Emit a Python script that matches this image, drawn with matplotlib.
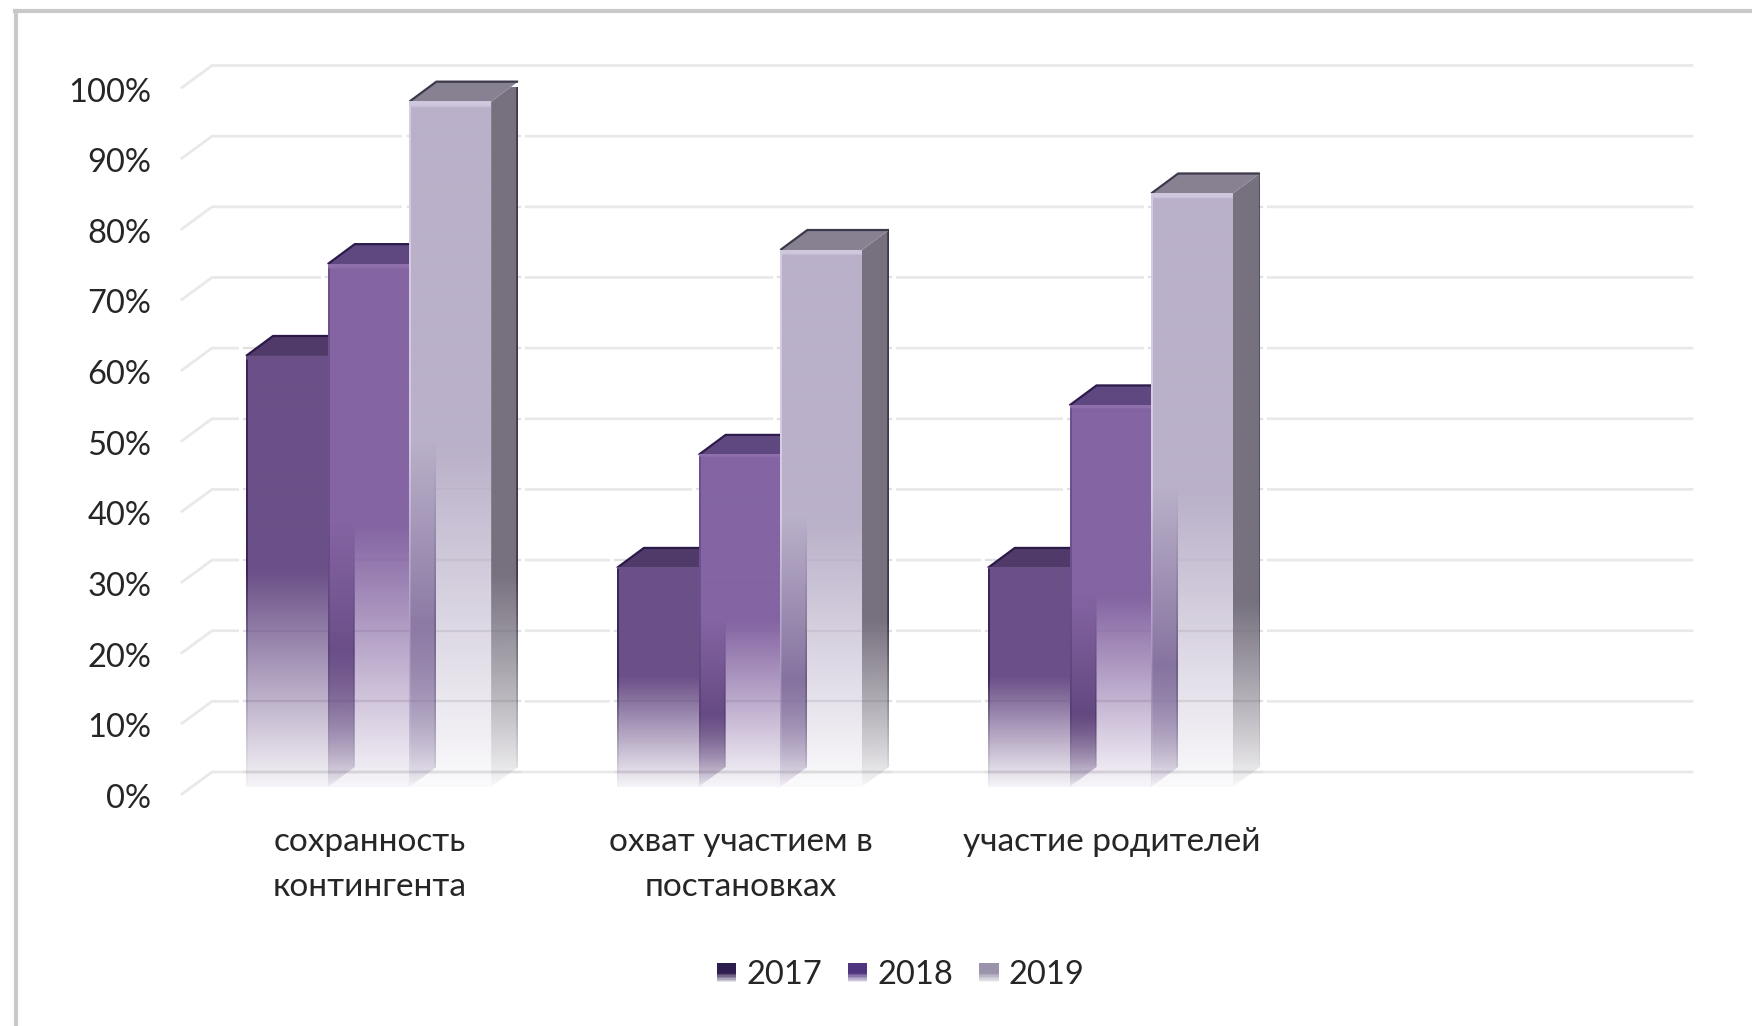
import numpy as np
import matplotlib
matplotlib.use("Agg")
import matplotlib.pyplot as plt
from matplotlib.colors import to_rgb
from matplotlib.legend_handler import HandlerBase
from matplotlib.lines import Line2D
from matplotlib.patches import Polygon, Rectangle
from matplotlib.transforms import ScaledTranslation

plt.rcParams['font.family'] = ['Lato', 'Open Sans', 'DejaVu Sans']

# Data
categories = ["сохранность\nконтингента", "охват участием в\nпостановках", "участие родителей", ""]
years = ["2017", "2018", "2019"]
values_2017 = [61, 31, 31]
values_2018 = [74, 47, 54]
values_2019 = [97, 76, 84]
y_ticks = list(range(0, 101, 10))

# Colours per series: front, side, top, top edge, left edge of front, legend
front_colors = ["#6b5088", "#8464a2", "#bab0c9"]
side_colors = ["#4d3569", "#5e4480", "#77717f"]
top_colors = ["#4f3a69", "#5f4780", "#878192"]
edge_colors = ["#2b1a48", "#2d1b4c", "#3d384a"]
left_colors = ["#3a2559", "#6d4f8f", "#d4cce4"]
top_lines = ["#6b5088", "#8f70ad", "#cfc7dd"]
legend_colors = ["#2e1d4f", "#4f3580", "#9a93ab"]

W, H = 1752, 1026
GRID = "#e9e9e9"

# Pixel geometry of the fake 3D box
cat_px = 370.9
unit_px = 7.07
wall_dx, wall_dy = 30 / cat_px, 22 / unit_px
bar_dx, bar_dy = 27 / cat_px, 20 / unit_px
bar_w = 81.7 / cat_px
bar_center = 0.003
base = 1.0
knee = 0.47

fig = plt.figure(figsize=(W / 100, H / 100), dpi=100)
ax = fig.add_axes([182 / W, 1 - 794 / H, 4 * cat_px / W, (794 - 87.5) / H])
ax.set_facecolor("none")
for s in ax.spines.values():
    s.set_visible(False)

# Screenshot frame, left and top only
fig.add_artist(Line2D([16 / W, 16 / W], [0, 1 - 10.5 / H], color="#c9c9c9", lw=3))
fig.add_artist(Line2D([14.5 / W, 1], [1 - 10.5 / H, 1 - 10.5 / H], color="#c9c9c9", lw=3))

# Walls: gridline on the back plane plus the short diagonal
for t in y_ticks:
    ax.plot([-0.5, -0.5 + wall_dx, 3.49 + wall_dx], [t, t + wall_dy, t + wall_dy],
            color=GRID, lw=2, zorder=1, clip_on=False, solid_joinstyle="round")


def front_fade(n):
    # alpha by row, row 0 is the top of the face
    h = np.linspace(1, 0, n)
    low = 0.06 + (0.95 - 0.06) * h / knee
    return np.where(h > knee + 0.03, 1.0, np.where(h > knee, 0.95 + 0.05 * (h - knee) / 0.03, low))


def side_fade(n):
    # the side stays solid much further down than the front
    h = np.linspace(1, 0, n)
    return np.clip(0.05 + 0.95 * (h / 0.3) ** 0.85, 0, 1)


def face_image(color, n_cols, alpha, left=None, right=None, right_w=1, top=None):
    rows = alpha.size
    img = np.ones((rows, n_cols, 4))
    img[:, :, :3] = to_rgb(color)
    if left is not None:
        img[:, :2, :3] = to_rgb(left)
    if right is not None:
        img[:, -right_w:, :3] = to_rgb(right)
    if top is not None:
        img[:2, :, :3] = to_rgb(top)
    img[:, :, 3] = alpha[:, None]
    return img


def draw_bar(x0, v, k, z):
    x1 = x0 + bar_w
    top = base + v
    # White halo that interrupts the gridlines, then the lines seen through the bar
    halo = 7 / cat_px
    ax.add_patch(Rectangle((x0 - halo, base + bar_dy), bar_w + bar_dx + 2 * halo, v,
                           fc="white", ec="none", zorder=1.5, clip_on=False))
    for t in y_ticks:
        if t + wall_dy < top + bar_dy:
            ax.plot([x0 - 0.005, x1 + bar_dx + 0.005], [t + wall_dy, t + wall_dy],
                    color="#e0e0e0", lw=1.6, zorder=1.7, clip_on=False)

    # Side face, clipped to its parallelogram
    side = face_image(side_colors[k], 30, side_fade(240), right=edge_colors[k], right_w=2)
    im = ax.imshow(side, extent=[x1, x1 + bar_dx, base, top + bar_dy], aspect="auto",
                   zorder=z, interpolation="bilinear")
    im.set_clip_path(Polygon([(x1, base), (x1 + bar_dx, base + bar_dy), (x1 + bar_dx, top + bar_dy),
                              (x1, top)], transform=ax.transData))
    im.set_clip_box(None)

    # Top face
    pts = [(x0, top), (x0 + bar_dx, top + bar_dy), (x1 + bar_dx, top + bar_dy), (x1, top)]
    ax.add_patch(Polygon(pts, fc=top_colors[k], ec="none", zorder=z + 0.1, clip_on=False))
    ax.plot([p[0] for p in pts[:3]], [p[1] for p in pts[:3]], color=edge_colors[k], lw=1.6,
            zorder=z + 0.2, clip_on=False, solid_capstyle="butt")

    # Front face, last so it covers the neighbour's side except where it fades
    front = face_image(front_colors[k], 82, front_fade(240), left=left_colors[k], top=top_lines[k])
    ax.imshow(front, extent=[x0, x1, base, top], aspect="auto", zorder=z + 0.3,
              clip_on=False, interpolation="bilinear")


series = [values_2017, values_2018, values_2019]
for c in range(3):
    for k, vals in enumerate(series):
        draw_bar(c + bar_center + (k - 1.5) * bar_w, vals[c], k, 3 + k + c * 0.01)

ax.set_xlim(-0.5, 3.5)
ax.set_ylim(0, 100)
ax.set_xticks([i + 0.006 for i in range(len(categories))])
ax.set_xticklabels(categories, fontsize=24, color="#262626", linespacing=1.6)
ax.set_yticks(y_ticks)
ax.set_yticklabels([f"{t}%" for t in y_ticks], fontsize=23.5, color="#262626")
ax.tick_params(axis="both", length=0)
ax.tick_params(axis="x", pad=24)
ax.tick_params(axis="y", pad=22)
nudge = ScaledTranslation(0, -2 / 100, fig.dpi_scale_trans)
for lab in ax.get_yticklabels():
    lab.set_transform(lab.get_transform() + nudge)


class FadeSquare(HandlerBase):
    # legend key as stacked strips, dark at the top and pale at the bottom
    def create_artists(self, legend, orig, xd, yd, w, h, fs, trans):
        side = 14
        n = 14
        x = xd + (w - side) / 2
        y = -yd + (h - side) / 2
        col = np.array(to_rgb(orig.get_facecolor()[:3]))
        out = []
        for i in range(n):
            a = min(1.0, 0.12 + 0.88 * i / (0.45 * n))
            out.append(Rectangle((x, y + i * side / n), side, side / n + 0.2, transform=trans,
                                 fc=tuple(col * a + (1 - a)), ec="none"))
        return out


handles = [Rectangle((0, 0), 1, 1, fc=c) for c in legend_colors]
fig.legend(handles, years, loc="center", bbox_to_anchor=(900.5 / W, 1 - 975 / H), ncol=3, frameon=False,
           fontsize=23.5, labelcolor="#262626", handler_map={Rectangle: FadeSquare()},
           handlelength=0.6, handletextpad=0.3, columnspacing=0.8)

fig.savefig("out.png", dpi=100, facecolor="white")
